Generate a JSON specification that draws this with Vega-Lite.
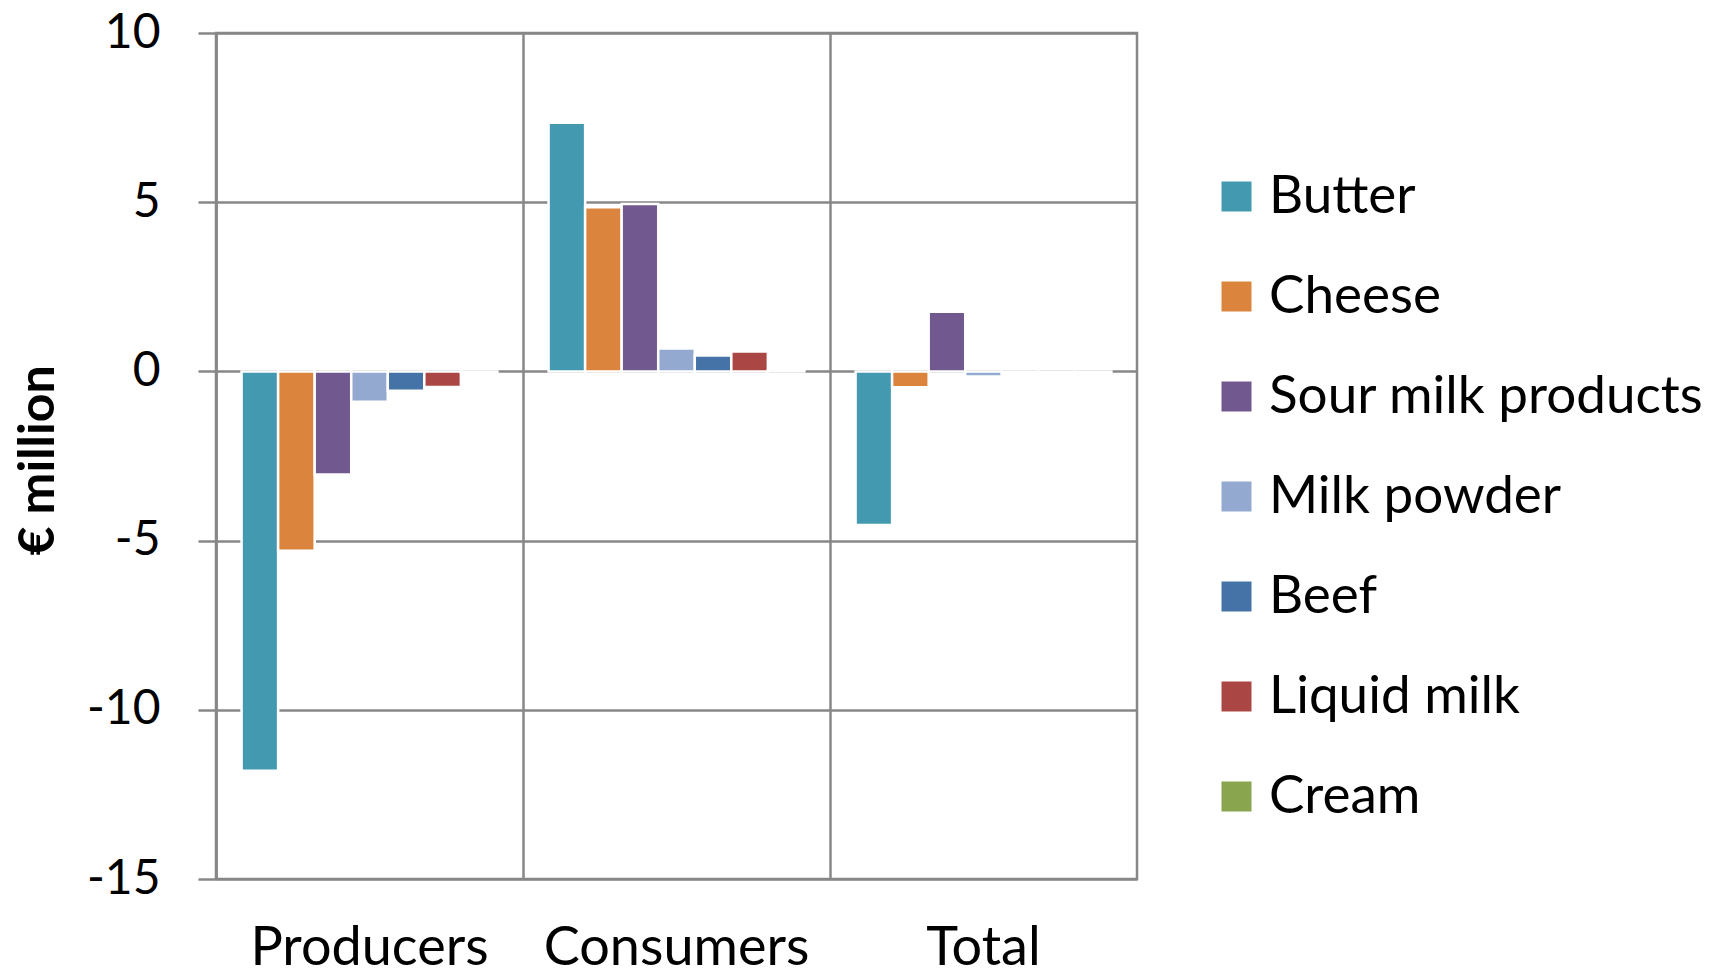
{
  "$schema": "https://vega.github.io/schema/vega-lite/v6.json",
  "autosize": "none",
  "width": 921,
  "height": 846,
  "padding": {"left": 216, "top": 33, "right": 586, "bottom": 101},
  "background": "white",
  "config": {
    "font": "Lato",
    "view": {"stroke": "#878787", "strokeWidth": 2.5}
  },
  "data": {
    "values": [
      {"group": "Producers", "product": "Butter", "value": -11.8},
      {"group": "Producers", "product": "Cheese", "value": -5.3},
      {"group": "Producers", "product": "Sour milk products", "value": -3.05},
      {"group": "Producers", "product": "Milk powder", "value": -0.9},
      {"group": "Producers", "product": "Beef", "value": -0.57},
      {"group": "Producers", "product": "Liquid milk", "value": -0.46},
      {"group": "Producers", "product": "Cream", "value": -0.03},
      {"group": "Consumers", "product": "Butter", "value": 7.35},
      {"group": "Consumers", "product": "Cheese", "value": 4.85},
      {"group": "Consumers", "product": "Sour milk products", "value": 4.95},
      {"group": "Consumers", "product": "Milk powder", "value": 0.68},
      {"group": "Consumers", "product": "Beef", "value": 0.47},
      {"group": "Consumers", "product": "Liquid milk", "value": 0.59},
      {"group": "Consumers", "product": "Cream", "value": 0.02},
      {"group": "Total", "product": "Butter", "value": -4.54},
      {"group": "Total", "product": "Cheese", "value": -0.47},
      {"group": "Total", "product": "Sour milk products", "value": 1.76},
      {"group": "Total", "product": "Milk powder", "value": -0.15},
      {"group": "Total", "product": "Beef", "value": -0.08},
      {"group": "Total", "product": "Liquid milk", "value": -0.04},
      {"group": "Total", "product": "Cream", "value": -0.02}
    ]
  },
  "mark": {"type": "bar", "stroke": "white", "strokeWidth": 2.5},
  "encoding": {
    "x": {
      "field": "group",
      "type": "nominal",
      "sort": ["Producers", "Consumers", "Total"],
      "scale": {"paddingInner": 0, "paddingOuter": 0},
      "axis": {
        "title": null,
        "orient": "bottom",
        "labelAngle": 0,
        "labelFontSize": 54,
        "labelLimit": 0,
        "labelColor": "black",
        "labelPadding": 42,
        "ticks": false,
        "domain": false,
        "grid": true,
        "bandPosition": 0,
        "gridColor": "#878787",
        "gridWidth": 2.5,
        "gridOpacity": 1
      }
    },
    "xOffset": {
      "field": "product",
      "type": "nominal",
      "sort": ["Butter", "Cheese", "Sour milk products", "Milk powder", "Beef", "Liquid milk", "Cream"],
      "scale": {"paddingInner": 0, "paddingOuter": 0.7}
    },
    "y": {
      "field": "value",
      "type": "quantitative",
      "scale": {"domain": [-15, 10], "nice": false, "zero": false},
      "axis": {
        "values": [-15, -10, -5, 0, 5, 10],
        "labelExpr": "toString(datum.value)",
        "title": "€ million",
        "titleFontSize": 50,
        "titleFontWeight": "bold",
        "titleColor": "black",
        "titleX": -178,
        "titleY": 427,
        "titleAngle": -90,
        "titleAlign": "center",
        "titleBaseline": "middle",
        "labelFontSize": 48,
        "labelColor": "black",
        "labelPadding": 38,
        "tickSize": 18,
        "tickColor": "#878787",
        "tickWidth": 2.5,
        "domainColor": "#878787",
        "domainWidth": 2.5,
        "grid": true,
        "gridColor": "#878787",
        "gridWidth": 2.5,
        "gridOpacity": 1
      }
    },
    "color": {
      "field": "product",
      "type": "nominal",
      "sort": ["Butter", "Cheese", "Sour milk products", "Milk powder", "Beef", "Liquid milk", "Cream"],
      "scale": {
        "domain": ["Butter", "Cheese", "Sour milk products", "Milk powder", "Beef", "Liquid milk", "Cream"],
        "range": ["#4299B0", "#DB843D", "#71588F", "#93A9D0", "#4572A7", "#AA4643", "#89A54E"]
      },
      "legend": {
        "title": null,
        "orient": "none",
        "legendX": 994,
        "legendY": 137,
        "symbolType": "square",
        "symbolSize": 900,
        "symbolStrokeWidth": 0,
        "labelFontSize": 53,
        "labelColor": "black",
        "labelOffset": 6,
        "rowPadding": 46,
        "labelLimit": 0,
        "padding": 0
      }
    }
  }
}
